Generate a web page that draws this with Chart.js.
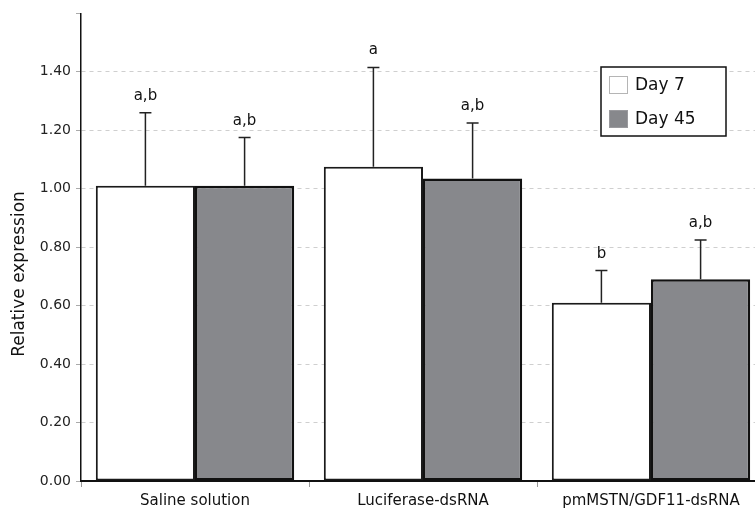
<!DOCTYPE html>
<html>
<head>
<meta charset="utf-8">
<script src="https://cdn.jsdelivr.net/npm/chart.js@4/dist/chart.umd.min.js"></script>
<style>
  html, body { margin: 0; padding: 0; background: #fff; overflow: hidden; }
  #wrap { position: relative; width: 770px; height: 512px; }
</style>
</head>
<body>
<div id="wrap"><canvas id="c" width="770" height="512"></canvas></div>
<script>
// Groups and measured relative expression (mean ± SD)
const categories = ['Saline solution', 'Luciferase-dsRNA', 'pmMSTN/GDF11-dsRNA'];
const seriesNames = ['Day 7', 'Day 45'];
const day7 = [1.01, 1.075, 0.61];
const day45 = [1.01, 1.035, 0.69];
const day7Sd = [0.25, 0.34, 0.11];
const day45Sd = [0.165, 0.19, 0.135];
// Significance letters above each bar
const day7Letters = ['a,b', 'a', 'b'];
const day45Letters = ['a,b', 'a,b', 'a,b'];
const yTicks = [0, 0.2, 0.4, 0.6, 0.8, 1.0, 1.2, 1.4];

const FONT = '"DejaVu Sans", Verdana, sans-serif';
const GRAY = '#87888c';

// Error bars and letters on top of each bar
const errorBars = {
  id: 'errorBars',
  afterDatasetsDraw(chart) {
    const ctx = chart.ctx;
    const y = chart.scales.y;
    chart.data.datasets.forEach((ds, di) => {
      const meta = chart.getDatasetMeta(di);
      meta.data.forEach((bar, i) => {
        const top = y.getPixelForValue(ds.data[i] + ds.sd[i]);
        ctx.save();
        ctx.strokeStyle = '#222';
        ctx.lineWidth = 1.5;
        ctx.beginPath();
        ctx.moveTo(bar.x, bar.y);
        ctx.lineTo(bar.x, top);
        ctx.moveTo(bar.x - 6, top);
        ctx.lineTo(bar.x + 6, top);
        ctx.stroke();
        ctx.fillStyle = '#111';
        ctx.font = '15px ' + FONT;
        ctx.textAlign = 'center';
        ctx.textBaseline = 'alphabetic';
        ctx.fillText(ds.letters[i], bar.x, top - 13);
        ctx.restore();
      });
    });
  }
};

// Boxed legend in the upper right and the rotated y-axis title
const boxLegend = {
  id: 'boxLegend',
  afterDraw(chart) {
    const ctx = chart.ctx;
    ctx.save();
    const bx = 601, by = 67, bw = 125, bh = 69;
    ctx.fillStyle = '#fff';
    ctx.fillRect(bx, by, bw, bh);
    ctx.strokeStyle = '#111';
    ctx.lineWidth = 1.5;
    ctx.strokeRect(bx, by, bw, bh);
    chart.data.datasets.forEach((ds, i) => {
      const sy = by + 9 + i * 34;
      ctx.fillStyle = ds.backgroundColor;
      ctx.fillRect(bx + 8, sy, 19, 18);
      ctx.strokeStyle = i === 0 ? '#b5b5b5' : '#9a9a9e';
      ctx.lineWidth = 1;
      ctx.strokeRect(bx + 8.5, sy + 0.5, 18, 17);
      ctx.fillStyle = '#111';
      ctx.font = '17px ' + FONT;
      ctx.textAlign = 'left';
      ctx.textBaseline = 'middle';
      ctx.fillText(ds.label, bx + 34, sy + 9.5);
    });
    ctx.translate(20, 274);
    ctx.rotate(-Math.PI / 2);
    ctx.fillStyle = '#111';
    ctx.font = '17px ' + FONT;
    ctx.textAlign = 'center';
    ctx.textBaseline = 'middle';
    ctx.fillText('Relative expression', 0, 0);
    ctx.restore();
  }
};

new Chart(document.getElementById('c'), {
  type: 'bar',
  data: {
    labels: categories,
    datasets: [
      { label: seriesNames[0], data: day7, sd: day7Sd, letters: day7Letters,
        backgroundColor: '#ffffff', borderColor: '#1a1a1a', borderWidth: 2, borderSkipped: false },
      { label: seriesNames[1], data: day45, sd: day45Sd, letters: day45Letters,
        backgroundColor: GRAY, borderColor: '#111', borderWidth: 2.5, borderSkipped: false }
    ]
  },
  options: {
    responsive: false,
    animation: false,
    devicePixelRatio: 1,
    layout: { padding: { top: 12, right: 5, left: 0, bottom: 0 } },
    plugins: { legend: { display: false }, tooltip: { enabled: false } },
    datasets: { bar: { categoryPercentage: 0.87, barPercentage: 1.0 } },
    scales: {
      x: {
        afterFit(s) { s.height = 31; },
        grid: { offset: true, drawOnChartArea: false, color: '#999', tickLength: 6, lineWidth: 1 },
        border: { color: '#111', width: 2 },
        ticks: { color: '#111', font: { family: FONT, size: 15 }, padding: 5 }
      },
      y: {
        min: 0, max: 1.6,
        afterFit(s) { s.width = 81; },
        afterBuildTicks(s) { s.ticks = yTicks.concat([1.6]).map(v => ({ value: v })); },
        grid: {
          color: ctx => (ctx.tick && ctx.tick.value >= 1.6) ? 'rgba(0,0,0,0)' : '#cfcfcf',
          tickLength: 5, lineWidth: 1, tickColor: '#aaa'
        },
        border: { color: '#111', width: 1.5, dash: [4, 4] },
        ticks: {
          color: '#222', font: { family: FONT, size: 14 }, padding: 5,
          callback: v => (v >= 1.6 ? '' : v.toFixed(2))
        }
      }
    }
  },
  plugins: [errorBars, boxLegend]
});
</script>
</body>
</html>
